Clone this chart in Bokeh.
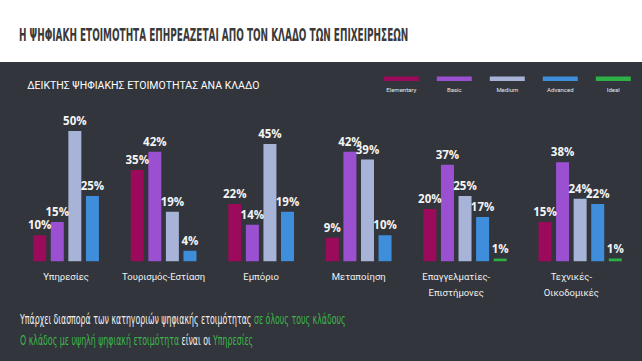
from bokeh.plotting import figure
from bokeh.models import FactorRange, Range1d, ColumnDataSource, Label, BoxAnnotation, Div
from bokeh.layouts import column
from bokeh.core.properties import value
from bokeh.embed import file_html
from bokeh.resources import INLINE

# ---------------- data ----------------
groups = ["Υπηρεσίες", "Τουρισμός-Εστίαση", "Εμπόριο", "Μεταποίηση",
          "Επαγγελματίες-Επιστήμονες", "Τεχνικές-Οικοδομικές"]
group_labels = ["Υπηρεσίες", "Τουρισμός-Εστίαση", "Εμπόριο", "Μεταποίηση",
                "Επαγγελματίες-\nΕπιστήμονες", "Τεχνικές-\nΟικοδομικές"]
series = ["Elementary", "Basic", "Medium", "Advanced", "Ideal"]
elementary = [10, 35, 22, 9, 20, 15]
basic = [15, 42, 14, 42, 37, 38]
medium = [50, 19, 45, 39, 25, 24]
advanced = [25, 4, 19, 10, 17, 22]
ideal = [None, None, None, None, 1, 1]
colors = ["#9c0a5b", "#9b50d2", "#a7b3d7", "#3f8edc", "#2fb047"]

title_text = "Η ΨΗΦΙΑΚΗ ΕΤΟΙΜΟΤΗΤΑ ΕΠΗΡΕΑΖΕΤΑΙ ΑΠΟ ΤΟΝ ΚΛΑΔΟ ΤΩΝ ΕΠΙΧΕΙΡΗΣΕΩΝ"
subtitle_text = "ΔΕΙΚΤΗΣ ΨΗΦΙΑΚΗΣ ΕΤΟΙΜΟΤΗΤΑΣ ΑΝΑ ΚΛΑΔΟ"

BG = "#32353b"
GREEN = "#3db54a"
SANS = "Roboto"

all_values = [elementary, basic, medium, advanced, ideal]

factors = []
xs, tops, cols, labels = [], [], [], []
for gi, g in enumerate(groups):
    for si, s in enumerate(series):
        v = all_values[si][gi]
        if v is None:
            continue
        factors.append((g, s))
        xs.append((g, s))
        tops.append(v)
        cols.append(colors[si])
        labels.append(f"{v}%")

src = ColumnDataSource(dict(x=xs, top=tops, color=cols, label=labels))

x_range = FactorRange(*factors, group_padding=1.55, factor_padding=0,
                      range_padding=0.592, range_padding_units="absolute")
y_range = Range1d(-14.31, 76.25)

p = figure(width=642, height=236, x_range=x_range, y_range=y_range,
           x_axis_location=None, y_axis_location=None,
           toolbar_location=None, tools="", output_backend="svg",
           min_border_left=20, min_border_right=8, min_border_top=0, min_border_bottom=0,
           background_fill_color=None, border_fill_color=None, outline_line_color=None,
           styles={"background-color": BG})
p.grid.visible = False

p.vbar(x="x", top="top", width=0.74, source=src, fill_color="color", line_color=None)
p.text(x="x", y="top", text="label", source=src, text_align="center",
       text_baseline="bottom", y_offset=-3, text_color="#f4f4f4",
       text_font=value("Open Sans"), text_font_style="bold", text_font_size="11.5px")

# category labels (centred under the first four bars of each group)
lab_src = ColumnDataSource(dict(x=[(g, "Medium") for g in groups], y=[0] * len(groups),
                                text=group_labels))
p.text(x="x", y="y", text="text", source=lab_src, text_align="center",
       text_baseline="top", x_offset=-8.79, y_offset=10, text_color="#f0f0f0",
       text_font=value(SANS), text_font_size="9.5px", text_line_height=1.45)

# subtitle
p.add_layout(Label(x=6.7, y=213, x_units="screen", y_units="screen", text=subtitle_text,
                   text_color="#ffffff", text_font=SANS, text_font_size="10.5px",
                   text_baseline="middle"))

# legend (swatch above label)
for i, s in enumerate(series):
    left = 363.3 + 53 * i
    p.add_layout(BoxAnnotation(left=left, right=left + 35, bottom=217.5, top=222,
                               left_units="screen", right_units="screen",
                               bottom_units="screen", top_units="screen",
                               fill_color=colors[i], fill_alpha=1, line_color=None))
    p.add_layout(Label(x=left + 17.5, y=209, x_units="screen", y_units="screen", text=s,
                       text_color="#e8e8e8", text_font=SANS, text_font_size="6px",
                       text_align="center", text_baseline="middle"))

FONT_CSS = "'DejaVu Sans Condensed','DejaVu Sans',sans-serif"

header = Div(width=642, height=62, margin=0, styles={"background-color": "#ffffff"}, text=(
    f'<div style="position:relative;width:642px;height:62px;overflow:hidden">'
    f'<span style="position:absolute;left:19px;top:22px;white-space:nowrap;'
    f'font-family:{FONT_CSS};font-weight:bold;font-size:18.3px;color:#3a3a3a;'
    f'transform:scaleX(0.543);transform-origin:0 0">{title_text}</span></div>'))

line1 = ('Υπάρχει διασπορά των κατηγοριών ψηφιακής ετοιμότητας '
         f'<span style="color:{GREEN}">σε όλους τους κλάδους</span>')
line2 = (f'<span style="color:{GREEN}">Ο κλάδος με υψηλή ψηφιακή ετοιμότητα</span> '
         f'είναι οι <span style="color:{GREEN}">Υπηρεσίες</span>')
span_style = (f'position:absolute;left:20px;white-space:nowrap;font-family:{FONT_CSS};'
              'font-size:13.5px;color:#f2f2f2;transform:scaleX(0.645);transform-origin:0 0')
footer = Div(width=642, height=63, margin=0, styles={"background-color": BG}, text=(
    f'<div style="position:relative;width:642px;height:63px;overflow:hidden">'
    f'<span style="{span_style};top:12px">{line1}</span>'
    f'<span style="{span_style};top:32.6px">{line2}</span></div>'))

layout = column(header, p, footer, spacing=0)

with open("out.html", "w") as f:
    f.write(file_html(layout, INLINE))
